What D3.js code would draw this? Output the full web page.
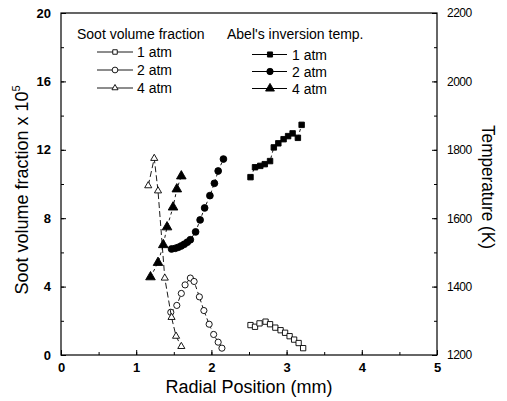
<!DOCTYPE html>
<html>
<head>
<meta charset="utf-8">
<script src="https://cdn.jsdelivr.net/npm/d3@7"></script>
<style>
  body { margin: 0; background: #fff; }
  text { font-family: "Liberation Sans", Arial, sans-serif; fill: #000; }
</style>
</head>
<body>
<div id="chart"></div>
<script>
// Data: [radial position mm, value]
const soot1atm = [[2.52,1.75],[2.58,1.65],[2.64,1.85],[2.72,1.95],[2.78,1.8],[2.85,1.6],[2.92,1.45],[2.98,1.3],[3.04,1.1],[3.1,0.9],[3.16,0.7],[3.22,0.4]];
const soot2atm = [[1.46,2.5],[1.54,2.9],[1.6,3.6],[1.65,4.1],[1.72,4.5],[1.77,4.3],[1.84,3.4],[1.9,2.6],[1.97,1.8],[2.03,1.2],[2.09,0.75],[2.14,0.4]];
const soot4atm = [[1.16,9.9],[1.24,11.5],[1.29,9.6],[1.38,4.5],[1.47,2.2],[1.53,1.1],[1.6,0.5]];
const temp1atm = [[2.52,1720],[2.58,1749],[2.65,1753],[2.71,1758],[2.78,1767],[2.83,1807],[2.89,1819],[2.96,1831],[3.02,1840],[3.08,1848],[3.15,1835],[3.2,1873]];
const temp2atm = [[1.47,1510],[1.52,1512],[1.56,1515],[1.6,1519],[1.64,1524],[1.68,1530],[1.72,1537],[1.79,1560],[1.85,1595],[1.91,1630],[1.98,1666],[2.04,1702],[2.09,1738],[2.16,1773]];
const temp4atm = [[1.19,1428],[1.29,1470],[1.36,1522],[1.41,1574],[1.49,1632],[1.54,1685],[1.6,1723]];

const xTicks = [0, 1, 2, 3, 4, 5];
const sootTicks = [0, 4, 8, 12, 16, 20];
const tempTicks = [1200, 1400, 1600, 1800, 2000, 2200];

// Layout
const W = 507, H = 401;
const plotLeft = 61, plotRight = 437, plotTop = 13, plotBottom = 355;

const svg = d3.select("#chart")
    .append("svg")
    .attr("width", W)
    .attr("height", H);

const x = d3.scaleLinear().domain([0, 5]).range([plotLeft, plotRight]);
const ySoot = d3.scaleLinear().domain([0, 20]).range([plotBottom, plotTop]);
const yTemp = d3.scaleLinear().domain([1200, 2200]).range([plotBottom, plotTop]);

// frame
svg.append("rect")
    .attr("x", plotLeft).attr("y", plotTop)
    .attr("width", plotRight - plotLeft).attr("height", plotBottom - plotTop)
    .attr("fill", "none").attr("stroke", "#000").attr("stroke-width", 1.2);

// bottom axis (ticks inward)
svg.append("g")
    .attr("transform", `translate(0,${plotBottom})`)
    .call(d3.axisBottom(x).tickValues(d3.range(0, 5.01, 0.5)).tickSize(-3).tickFormat(""))
    .call(g => g.select(".domain").remove());
svg.append("g")
    .attr("transform", `translate(0,${plotBottom})`)
    .call(d3.axisBottom(x).tickValues(xTicks).tickSize(-5).tickPadding(8).tickFormat(d3.format("d")))
    .call(g => g.select(".domain").remove())
    .call(g => g.selectAll("text").attr("font-size", 13).attr("font-weight", "bold"));

// left axis
svg.append("g")
    .attr("transform", `translate(${plotLeft},0)`)
    .call(d3.axisLeft(ySoot).tickValues(d3.range(0, 20.1, 2)).tickSize(-3).tickFormat(""))
    .call(g => g.select(".domain").remove());
svg.append("g")
    .attr("transform", `translate(${plotLeft},0)`)
    .call(d3.axisLeft(ySoot).tickValues(sootTicks).tickSize(-5).tickPadding(10))
    .call(g => g.select(".domain").remove())
    .call(g => g.selectAll("text").attr("font-size", 13).attr("font-weight", "bold"));

// right axis
svg.append("g")
    .attr("transform", `translate(${plotRight},0)`)
    .call(d3.axisRight(yTemp).tickValues(d3.range(1200, 2201, 100)).tickSize(-3).tickFormat(""))
    .call(g => g.select(".domain").remove());
svg.append("g")
    .attr("transform", `translate(${plotRight},0)`)
    .call(d3.axisRight(yTemp).tickValues(tempTicks).tickSize(-5).tickPadding(10).tickFormat(d3.format("d")))
    .call(g => g.select(".domain").remove())
    .call(g => g.selectAll("text").attr("font-size", 12).attr("letter-spacing", -0.5));

// axis titles
svg.append("text")
    .attr("x", (plotLeft + plotRight) / 2).attr("y", 393)
    .attr("text-anchor", "middle").attr("font-size", 18)
    .text("Radial Position (mm)");

const yTitle = svg.append("text")
    .attr("transform", `translate(28,${(plotTop + plotBottom) / 2 + 6}) rotate(-90)`)
    .attr("text-anchor", "middle").attr("font-size", 18);
yTitle.append("tspan").text("Soot volume fraction x 10");
yTitle.append("tspan").attr("dy", -8).attr("font-size", 11).text("5");

svg.append("text")
    .attr("transform", `translate(482,187) rotate(90)`)
    .attr("text-anchor", "middle").attr("font-size", 18)
    .attr("textLength", 124).attr("lengthAdjust", "spacingAndGlyphs")
    .text("Temperature (K)");

// marker drawing
function marker(sel, shape, filled, size) {
    const sym = { square: d3.symbolSquare, circle: d3.symbolCircle, triangle: d3.symbolTriangle }[shape];
    sel.append("path")
        .attr("d", d3.symbol().type(sym).size(size))
        .attr("fill", filled ? "#000" : "#fff")
        .attr("stroke", "#000")
        .attr("stroke-width", 0.9);
}

function drawSeries(data, yScale, shape, filled, size, dash) {
    svg.append("path")
        .datum(data)
        .attr("fill", "none")
        .attr("stroke", "#000")
        .attr("stroke-width", 0.9)
        .attr("stroke-dasharray", dash)
        .attr("d", d3.line().x(d => x(d[0])).y(d => yScale(d[1])));
    svg.selectAll(null)
        .data(data)
        .enter().append("g")
        .attr("transform", d => `translate(${x(d[0])},${yScale(d[1])})`)
        .each(function() { marker(d3.select(this), shape, filled, size); });
}

drawSeries(soot1atm, ySoot, "square", false, 28, "4,3");
drawSeries(soot2atm, ySoot, "circle", false, 30, "4,3");
drawSeries(soot4atm, ySoot, "triangle", false, 22, "6,3");
drawSeries(temp1atm, yTemp, "square", true, 30, "3,3");
drawSeries(temp2atm, yTemp, "circle", true, 36, "3,3");
drawSeries(temp4atm, yTemp, "triangle", true, 40, "3,3");

// legends
const sootLegend = [
    { label: "1 atm", shape: "square", size: 20 },
    { label: "2 atm", shape: "circle", size: 26 },
    { label: "4 atm", shape: "triangle", size: 16 }
];
const tempLegend = [
    { label: "1 atm", shape: "square", size: 26 },
    { label: "2 atm", shape: "circle", size: 32 },
    { label: "4 atm", shape: "triangle", size: 34 }
];

svg.append("text").attr("x", 77).attr("y", 39).attr("font-size", 14).text("Soot volume fraction");
svg.append("text").attr("x", 227).attr("y", 39).attr("font-size", 14).text("Abel's inversion temp.");

sootLegend.forEach((d, i) => {
    const yy = 52 + i * 18;
    svg.append("line").attr("x1", 97).attr("x2", 133).attr("y1", yy).attr("y2", yy)
        .attr("stroke", "#000").attr("stroke-width", 0.9);
    const g = svg.append("g").attr("transform", `translate(115,${yy})`);
    marker(g, d.shape, false, d.size);
    svg.append("text").attr("x", 137).attr("y", yy + 5).attr("font-size", 14).text(d.label);
});

tempLegend.forEach((d, i) => {
    const yy = 54.5 + i * 17;
    svg.append("line").attr("x1", 252).attr("x2", 287).attr("y1", yy).attr("y2", yy)
        .attr("stroke", "#000").attr("stroke-width", 1.2);
    const g = svg.append("g").attr("transform", `translate(270,${yy})`);
    marker(g, d.shape, true, d.size);
    svg.append("text").attr("x", 292).attr("y", yy + 5).attr("font-size", 14).text(d.label);
});
</script>
</body>
</html>
